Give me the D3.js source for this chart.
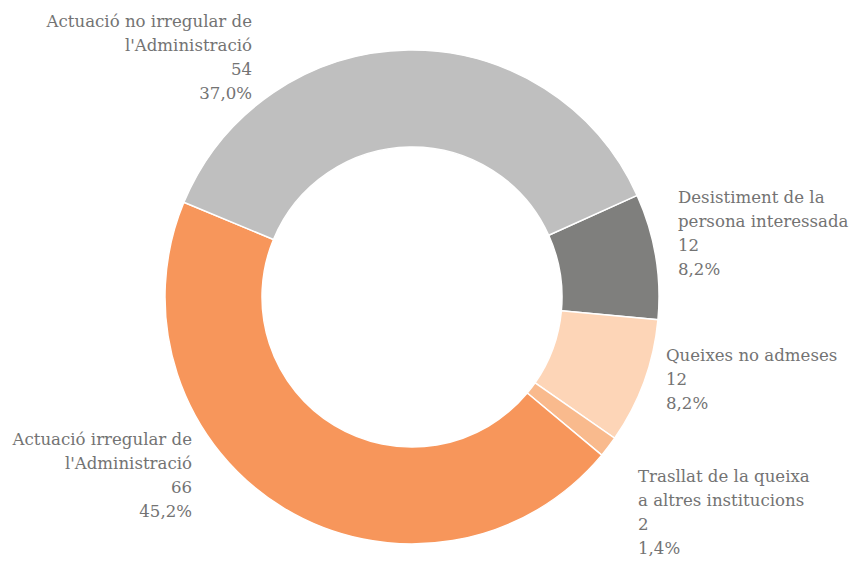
<!DOCTYPE html>
<html>
<head>
<meta charset="utf-8">
<script src="https://cdn.jsdelivr.net/npm/d3@7"></script>
<style>
  body { margin: 0; background: #fff; }
  .lbl { font-family: "DejaVu Serif", serif; font-size: 16.6px; fill: #737373; }
</style>
</head>
<body>
<svg id="chart" width="857" height="561"></svg>
<script>
// data, in drawing order (clockwise)
const categories = [
    "Desistiment de la persona interessada",
    "Queixes no admeses",
    "Trasllat de la queixa a altres institucions",
    "Actuació irregular de l'Administració",
    "Actuació no irregular de l'Administració"
];
const values = [12, 12, 2, 66, 54];
const percents = ["8,2%", "8,2%", "1,4%", "45,2%", "37,0%"];
const labelLines = [
    ["Desistiment de la", "persona interessada"],
    ["Queixes no admeses"],
    ["Trasllat de la queixa", "a altres institucions"],
    ["Actuació irregular de", "l'Administració"],
    ["Actuació no irregular de", "l'Administració"]
];
const colors = ["#7f7f7d", "#fdd5b7", "#f9ba8d", "#f7965b", "#bfbfbf"];

// label layout (first baseline + anchor)
const labelLayout = [
    { x: 678, y: 203, anchor: "start" },
    { x: 666, y: 361, anchor: "start" },
    { x: 638, y: 482, anchor: "start" },
    { x: 192, y: 445, anchor: "end" },
    { x: 252, y: 27, anchor: "end" }
];

const cx = 412, cy = 297, outerR = 247, innerR = 150;
const startAngle = 65.7 * Math.PI / 180;

const svg = d3.select("#chart");
const chart = svg.append("g").attr("transform", "translate(" + cx + "," + cy + ")");

const pie = d3.pie()
    .sort(null)
    .value(function (d) { return d; })
    .startAngle(startAngle)
    .endAngle(startAngle + 2 * Math.PI);

const arc = d3.arc().innerRadius(innerR).outerRadius(outerR);

chart.selectAll("path")
    .data(pie(values))
    .enter().append("path")
    .attr("d", arc)
    .attr("fill", function (d, i) { return colors[i]; })
    .attr("stroke", "#fff")
    .attr("stroke-width", 1.5);

const labels = svg.selectAll("text.lbl")
    .data(categories)
    .enter().append("text")
    .attr("class", "lbl")
    .attr("text-anchor", function (d, i) { return labelLayout[i].anchor; })
    .attr("x", function (d, i) { return labelLayout[i].x; })
    .attr("y", function (d, i) { return labelLayout[i].y; });

labels.each(function (d, i) {
    const lines = labelLines[i].concat([String(values[i]), percents[i]]);
    d3.select(this).selectAll("tspan")
        .data(lines)
        .enter().append("tspan")
        .attr("x", labelLayout[i].x)
        .attr("dy", function (l, j) { return j === 0 ? 0 : 24; })
        .text(function (l) { return l; });
});
</script>
</body>
</html>
